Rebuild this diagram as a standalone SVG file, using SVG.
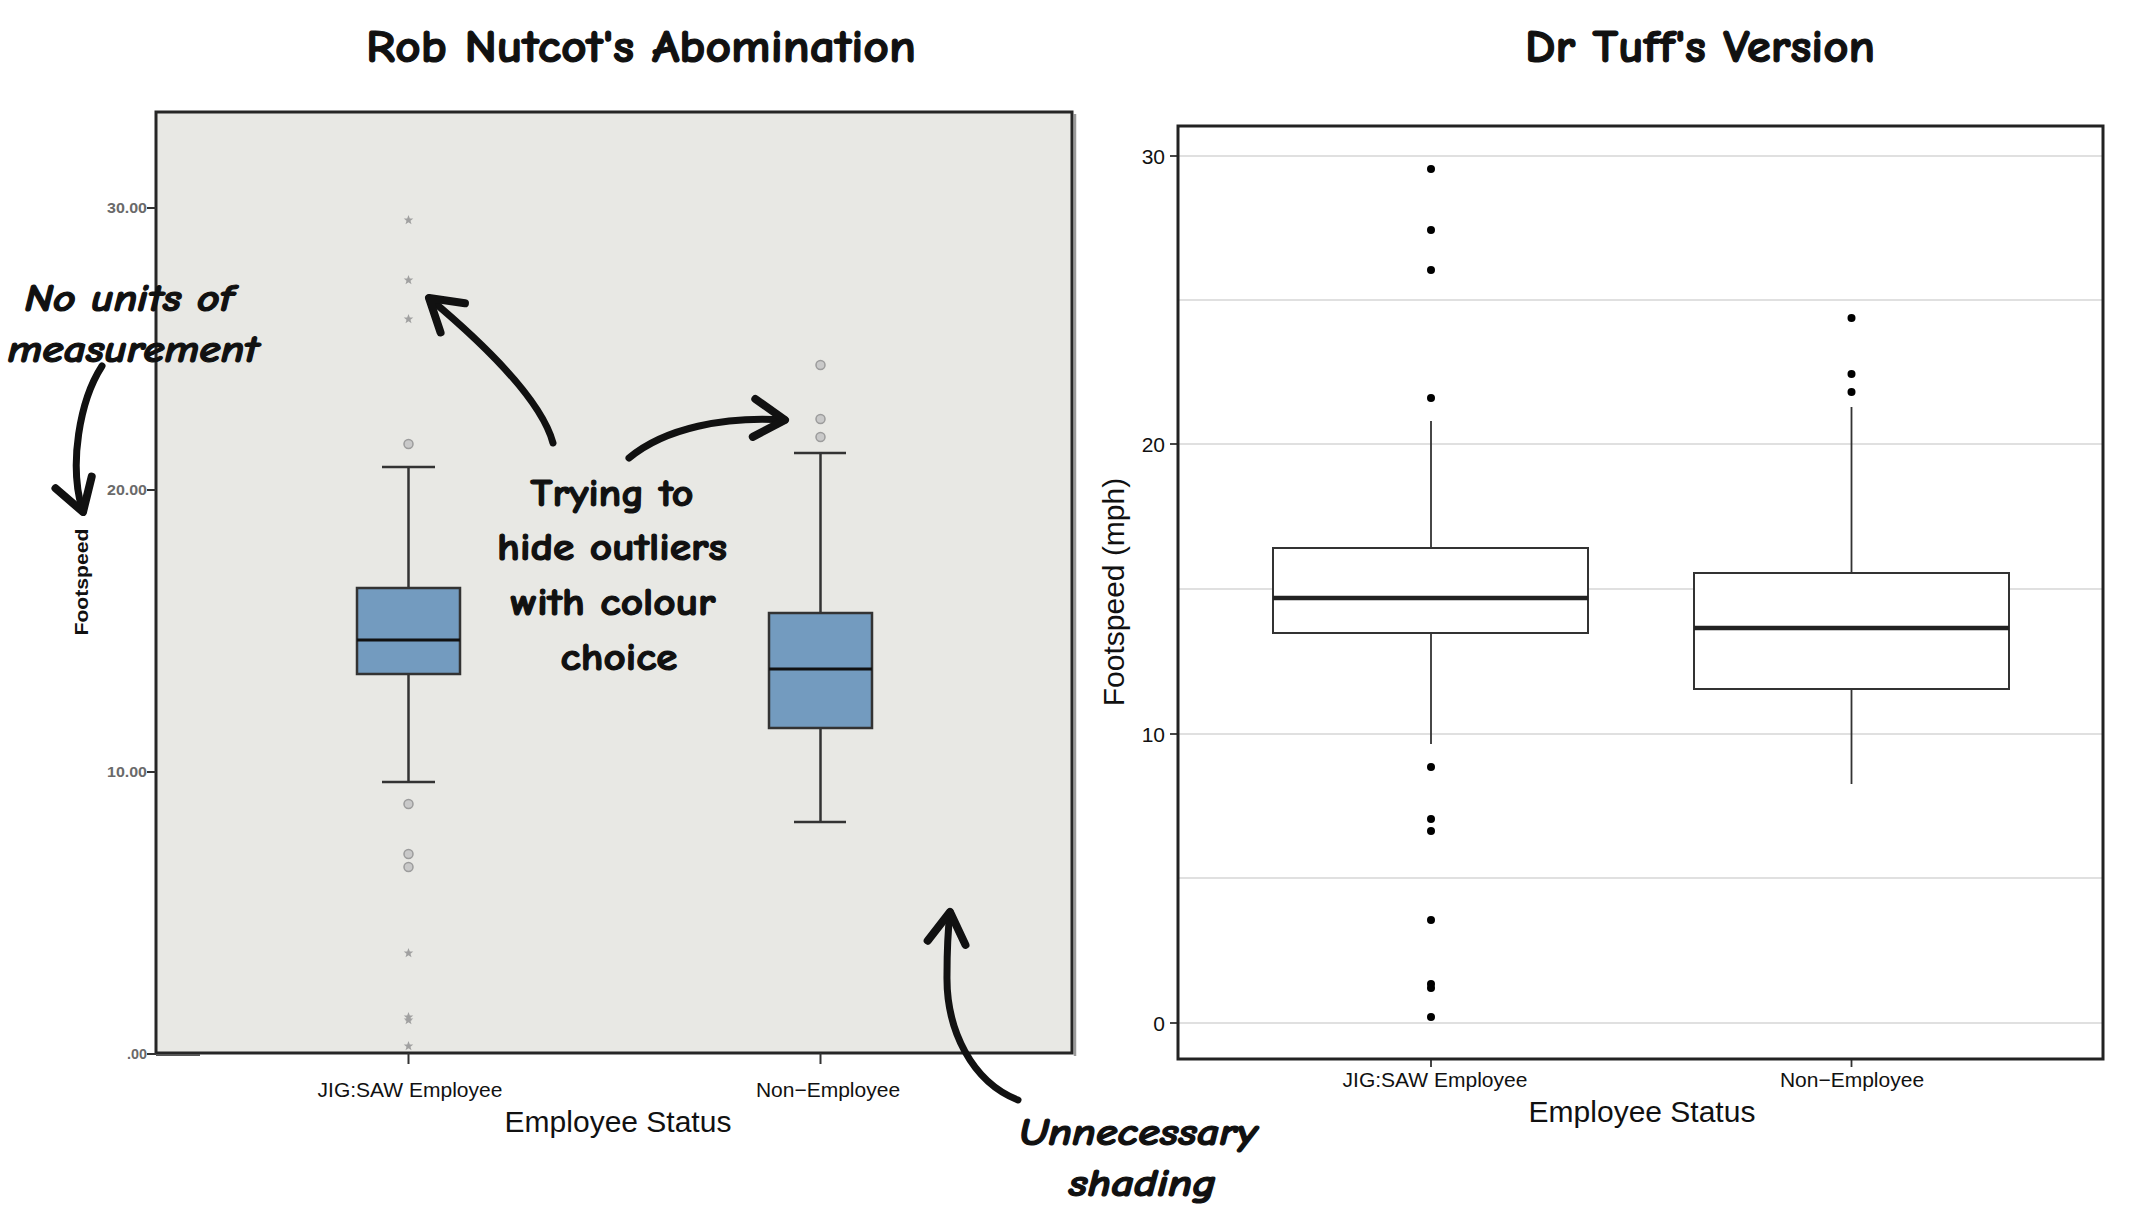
<svg xmlns="http://www.w3.org/2000/svg" width="2130" height="1218" viewBox="0 0 2130 1218">
<style>
.comic{font-family:'Comic Sans MS','Comic Neue','Liberation Sans',sans-serif;fill:#111;stroke:#111;stroke-width:1.2;stroke-linejoin:round}
.title{font-size:46px;font-weight:bold;text-anchor:middle}
.note{font-size:38px;font-weight:bold;text-anchor:middle}
.ital{font-style:italic}
.lab{font-family:'Liberation Sans',Arial,sans-serif;fill:#111}
.tick{font-size:21px}
.axt{font-size:30px}
.ltick{font-family:'Liberation Sans',Arial,sans-serif;font-size:14px;font-weight:bold;fill:#6a6a6a;text-anchor:end}
.lbox{fill:#739bbf;stroke:#333;stroke-width:2.5}
.lw{stroke:#333;stroke-width:2.5;fill:none}
.rbox{fill:#fff;stroke:#333;stroke-width:2}
.rw{stroke:#333;stroke-width:1.8;fill:none}
.med{stroke:#222;stroke-width:4.5}
.grid{stroke:#d6d6d6;stroke-width:1.6}
.circ{fill:#c9c9c9;stroke:#9c9c9c;stroke-width:1.5}
.star{fill:#a0a0a0}
.dot{fill:#000}
.arrow{fill:none;stroke:#111;stroke-width:7;stroke-linecap:round;stroke-linejoin:round}
</style>
<defs>
<marker id="head" markerUnits="userSpaceOnUse" markerWidth="80" markerHeight="80" viewBox="-40 -40 80 80" refX="0" refY="0" orient="auto" overflow="visible">
<path d="M-31,-19 L0,0 L-31,19" fill="none" stroke="#111" stroke-width="8" stroke-linecap="round" stroke-linejoin="round"/>
</marker>
<path id="st" d="M0,-5 L1.3,-1.6 L4.8,-1.5 L2,0.7 L3,4.2 L0,2.2 L-3,4.2 L-2,0.7 L-4.8,-1.5 L-1.3,-1.6 Z"/>
</defs>
<rect width="2130" height="1218" fill="#fff"/>

<g id="title-left"><text class="comic title" x="641" y="62" textLength="550" lengthAdjust="spacingAndGlyphs">Rob Nutcot's Abomination</text></g>
<g id="title-right"><text class="comic title" x="1700" y="62" textLength="350" lengthAdjust="spacingAndGlyphs">Dr Tuff's Version</text></g>

<g id="panel-left">
<line x1="1075" y1="114" x2="1075" y2="1056" stroke="#9a9a9a" stroke-width="2.5"/>
<rect x="156" y="112" width="916" height="941" fill="#e8e8e4" stroke="#262626" stroke-width="3"/>
<line x1="156" y1="1055" x2="200" y2="1055" stroke="#555" stroke-width="2"/>
<g stroke="#333" stroke-width="2">
<line x1="147" y1="208" x2="156" y2="208"/><line x1="147" y1="490" x2="156" y2="490"/><line x1="147" y1="772" x2="156" y2="772"/><line x1="147" y1="1054" x2="156" y2="1054"/>
<line x1="408.5" y1="1053" x2="408.5" y2="1064"/><line x1="820.5" y1="1053" x2="820.5" y2="1064"/>
</g>
<text class="ltick" x="147" y="213" textLength="40" lengthAdjust="spacingAndGlyphs">30.00</text>
<text class="ltick" x="147" y="495" textLength="40" lengthAdjust="spacingAndGlyphs">20.00</text>
<text class="ltick" x="147" y="777" textLength="40" lengthAdjust="spacingAndGlyphs">10.00</text>
<text class="ltick" x="147" y="1059" textLength="20" lengthAdjust="spacingAndGlyphs">.00</text>
<text class="lab" font-weight="bold" font-size="19" text-anchor="middle" transform="translate(88,582) rotate(-90)" textLength="107" lengthAdjust="spacingAndGlyphs">Footspeed</text>
<g id="left-jig">
<line class="lw" x1="408.5" y1="467" x2="408.5" y2="588"/><line class="lw" x1="382" y1="467" x2="435" y2="467"/>
<line class="lw" x1="408.5" y1="674" x2="408.5" y2="782"/><line class="lw" x1="382" y1="782" x2="435" y2="782"/>
<rect class="lbox" x="357" y="588" width="103" height="86"/>
<line x1="357" y1="640" x2="460" y2="640" stroke="#111" stroke-width="3"/>
<use href="#st" class="star" x="408.5" y="220"/><use href="#st" class="star" x="408.5" y="280"/><use href="#st" class="star" x="408.5" y="319"/>
<circle class="circ" cx="408.5" cy="444" r="4.5"/><circle class="circ" cx="408.5" cy="804" r="4.5"/><circle class="circ" cx="408.5" cy="854" r="4.5"/><circle class="circ" cx="408.5" cy="867" r="4.5"/>
<use href="#st" class="star" x="408.5" y="953"/><use href="#st" class="star" x="408.5" y="1017"/><use href="#st" class="star" x="408.5" y="1020"/><use href="#st" class="star" x="408.5" y="1046"/>
</g>
<g id="left-non">
<line class="lw" x1="820.5" y1="453" x2="820.5" y2="613"/><line class="lw" x1="794" y1="453" x2="846" y2="453"/>
<line class="lw" x1="820.5" y1="728" x2="820.5" y2="822"/><line class="lw" x1="794" y1="822" x2="846" y2="822"/>
<rect class="lbox" x="769" y="613" width="103" height="115"/>
<line x1="769" y1="669" x2="872" y2="669" stroke="#111" stroke-width="3"/>
<circle class="circ" cx="820.5" cy="365" r="4.5"/><circle class="circ" cx="820.5" cy="419" r="4.5"/><circle class="circ" cx="820.5" cy="437" r="4.5"/>
</g>
<text class="lab tick" x="410" y="1097" text-anchor="middle">JIG:SAW Employee</text>
<text class="lab tick" x="828" y="1097" text-anchor="middle">Non−Employee</text>
<text class="lab axt" x="618" y="1132" text-anchor="middle">Employee Status</text>
</g>

<g id="panel-right">
<rect x="1178" y="126" width="925" height="933" fill="#fff"/>
<g class="grid">
<line x1="1178" y1="156" x2="2103" y2="156"/><line x1="1178" y1="300" x2="2103" y2="300"/><line x1="1178" y1="444" x2="2103" y2="444"/><line x1="1178" y1="589" x2="2103" y2="589"/><line x1="1178" y1="734" x2="2103" y2="734"/><line x1="1178" y1="878" x2="2103" y2="878"/><line x1="1178" y1="1023" x2="2103" y2="1023"/>
</g>
<g stroke="#333" stroke-width="1.8">
<line x1="1170" y1="156" x2="1178" y2="156"/><line x1="1170" y1="444" x2="1178" y2="444"/><line x1="1170" y1="734" x2="1178" y2="734"/><line x1="1170" y1="1023" x2="1178" y2="1023"/>
<line x1="1431" y1="1059" x2="1431" y2="1067"/><line x1="1851.5" y1="1059" x2="1851.5" y2="1067"/>
</g>
<text class="lab tick" x="1165" y="163.5" text-anchor="end">30</text>
<text class="lab tick" x="1165" y="451.5" text-anchor="end">20</text>
<text class="lab tick" x="1165" y="741.5" text-anchor="end">10</text>
<text class="lab tick" x="1165" y="1030.5" text-anchor="end">0</text>
<text class="lab axt" text-anchor="middle" transform="translate(1124,592) rotate(-90)">Footspeed (mph)</text>
<g id="right-jig">
<line class="rw" x1="1431" y1="421" x2="1431" y2="548"/><line class="rw" x1="1431" y1="633" x2="1431" y2="744"/>
<rect class="rbox" x="1273" y="548" width="315" height="85"/>
<line class="med" x1="1273" y1="598" x2="1588" y2="598"/>
<circle class="dot" cx="1431" cy="169" r="4"/><circle class="dot" cx="1431" cy="230" r="4"/><circle class="dot" cx="1431" cy="270" r="4"/><circle class="dot" cx="1431" cy="398" r="4"/>
<circle class="dot" cx="1431" cy="767" r="4"/><circle class="dot" cx="1431" cy="819" r="4"/><circle class="dot" cx="1431" cy="831" r="4"/><circle class="dot" cx="1431" cy="920" r="4"/>
<circle class="dot" cx="1431" cy="984" r="4"/><circle class="dot" cx="1431" cy="988" r="4"/><circle class="dot" cx="1431" cy="1017" r="4"/>
</g>
<g id="right-non">
<line class="rw" x1="1851.5" y1="407" x2="1851.5" y2="573"/><line class="rw" x1="1851.5" y1="689" x2="1851.5" y2="784"/>
<rect class="rbox" x="1694" y="573" width="315" height="116"/>
<line class="med" x1="1694" y1="628" x2="2009" y2="628"/>
<circle class="dot" cx="1851.5" cy="318" r="4"/><circle class="dot" cx="1851.5" cy="374" r="4"/><circle class="dot" cx="1851.5" cy="392" r="4"/>
</g>
<rect x="1178" y="126" width="925" height="933" fill="none" stroke="#222" stroke-width="3"/>
<text class="lab tick" x="1435" y="1087" text-anchor="middle">JIG:SAW Employee</text>
<text class="lab tick" x="1852" y="1087" text-anchor="middle">Non−Employee</text>
<text class="lab axt" x="1642" y="1122" text-anchor="middle">Employee Status</text>
</g>

<g id="note-units">
<text class="comic note ital" x="129" y="311" textLength="209" lengthAdjust="spacingAndGlyphs">No units of</text>
<text class="comic note ital" x="133" y="362" textLength="251" lengthAdjust="spacingAndGlyphs">measurement</text>
</g>
<g id="note-outliers">
<text class="comic note" x="612" y="506" textLength="163" lengthAdjust="spacingAndGlyphs">Trying to</text>
<text class="comic note" x="612" y="560" textLength="230" lengthAdjust="spacingAndGlyphs">hide outliers</text>
<text class="comic note" x="613" y="615" textLength="205" lengthAdjust="spacingAndGlyphs">with colour</text>
<text class="comic note" x="619" y="670" textLength="117" lengthAdjust="spacingAndGlyphs">choice</text>
</g>
<g id="note-shading">
<text class="comic note ital" x="1138" y="1145" textLength="238" lengthAdjust="spacingAndGlyphs">Unnecessary</text>
<text class="comic note ital" x="1142" y="1196" textLength="147" lengthAdjust="spacingAndGlyphs">shading</text>
</g>

<g id="connectors">
<path class="arrow" d="M102,366 C80,400 68,465 83,512" marker-end="url(#head)"/>
<path class="arrow" d="M553,443 C540,395 472,334 429,298" marker-end="url(#head)"/>
<path class="arrow" d="M629,458 C665,428 725,416 785,420" marker-end="url(#head)"/>
<path class="arrow" d="M1018,1100 C972,1082 946,1030 947,975 C947,950 948,930 950,912" marker-end="url(#head)"/>
</g>
</svg>
